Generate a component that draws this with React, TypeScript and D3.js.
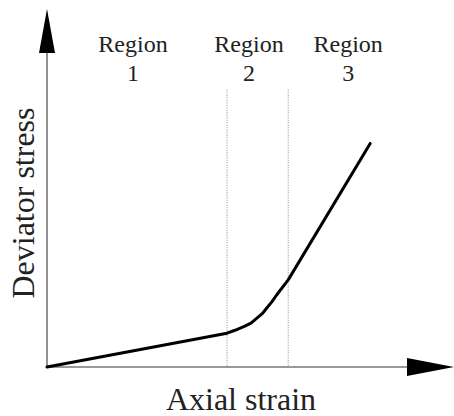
import React from 'react';
import * as d3 from 'd3';

// stress-strain curve (arbitrary units, 0..100)
const strain = [0, 45, 47, 49.2, 51, 52.4, 53.8, 54.9, 56.2, 57.4, 60.3, 80.8];
const stress = [0, 9.4, 10.2, 11.2, 12.2, 13.5, 14.8, 16.3, 18.1, 20, 24.2, 62.1];

// region borders (strain units)
const borders = [45, 60.3];
const regionNames = ['Region', 'Region', 'Region'];
const regionNums = ['1', '2', '3'];
const regionCenters = [21.5, 50.5, 75.3];

const xLabel = 'Axial strain';
const yLabel = 'Deviator stress';

const W = 454;
const H = 416;

function App() {
  const x = d3.scaleLinear().domain([0, 100]).range([47, 447]);
  const y = d3.scaleLinear().domain([0, 100]).range([367, 7]);

  const pts: [number, number][] = strain.map((s, i) => [s, stress[i]]);
  const line = d3
    .line<[number, number]>()
    .x((d) => x(d[0]))
    .y((d) => y(d[1]))
    .curve(d3.curveLinear);

  const x0 = x(0);
  const y0 = y(0);
  const font = '"Liberation Serif", "Times New Roman", Times, serif';

  return (
    <svg
      width={W}
      height={H}
      style={{ position: 'absolute', left: 0, top: 0, background: '#fff' }}
    >
      {/* dotted region borders */}
      {borders.map((b, i) => (
        <line
          key={i}
          x1={x(b)}
          x2={x(b)}
          y1={y(77)}
          y2={y0}
          stroke="#888"
          strokeWidth={1}
          strokeDasharray="1,1.5"
        />
      ))}

      {/* axes */}
      <line x1={x0} x2={408} y1={y0} y2={y0} stroke="#777" strokeWidth={1.6} />
      <line x1={x0} x2={x0} y1={y0} y2={52} stroke="#777" strokeWidth={1.6} />
      <path d={`M407,${y0 - 9} L454,${y0} L407,${y0 + 9} Z`} fill="#000" />
      <path d={`M${x0 - 8},53 L${x0},9 L${x0 + 8},53 Z`} fill="#000" />

      {/* curve */}
      <path
        d={line(pts) || ''}
        fill="none"
        stroke="#000"
        strokeWidth={3}
        strokeLinejoin="round"
        strokeLinecap="round"
      />

      {/* region labels */}
      {regionNames.map((r, i) => (
        <text
          key={i}
          x={x(regionCenters[i])}
          textAnchor="middle"
          fontFamily={font}
          fontSize={24}
          fill="#222"
        >
          <tspan x={x(regionCenters[i])} y={52}>{r}</tspan>
          <tspan x={x(regionCenters[i])} y={81}>{regionNums[i]}</tspan>
        </text>
      ))}

      {/* axis titles */}
      <text
        x={241}
        y={410}
        textAnchor="middle"
        fontFamily={font}
        fontSize={32}
        fill="#222"
      >
        {xLabel}
      </text>
      <text
        transform="translate(34,203) rotate(-90)"
        textAnchor="middle"
        fontFamily={font}
        fontSize={32}
        fill="#222"
      >
        {yLabel}
      </text>
    </svg>
  );
}

export default App;
